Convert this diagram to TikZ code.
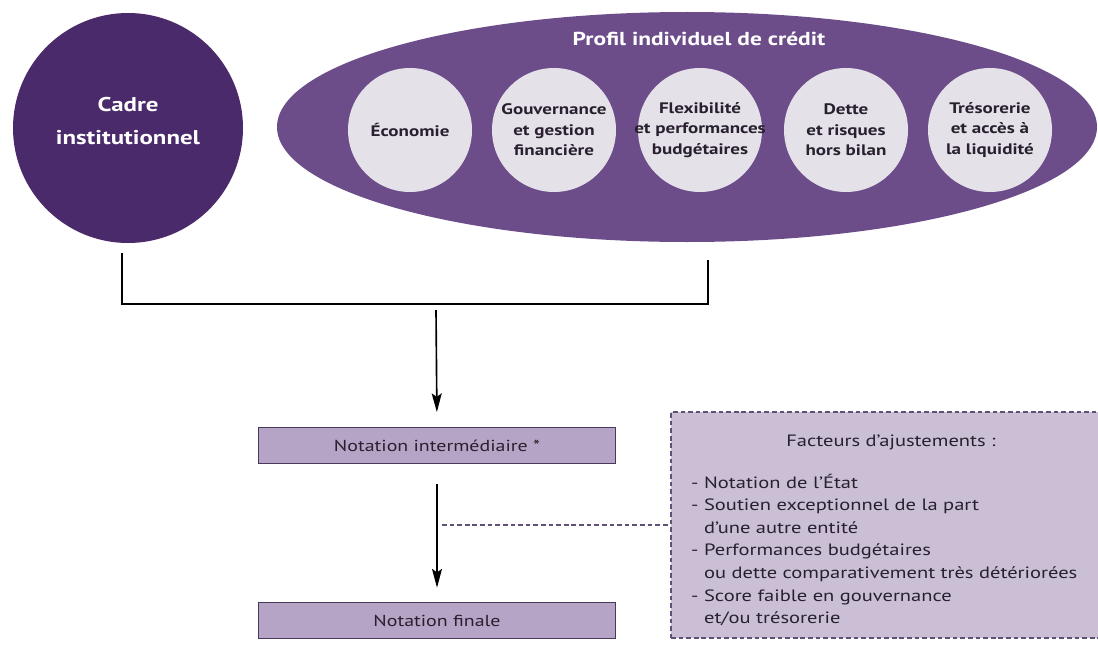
\documentclass[tikz,border=0pt]{standalone}
\usepackage{fontspec}
\setmainfont{PT Sans}[FakeStretch=1.25]
\usetikzlibrary{shapes.geometric,arrows.meta}

\definecolor{cadrepurple}{RGB}{74,42,106}
\definecolor{profilpurple}{RGB}{108,77,138}
\definecolor{critgrey}{RGB}{229,225,233}
\definecolor{notefill}{RGB}{182,164,198}
\definecolor{noteedge}{RGB}{72,56,90}
\definecolor{factfill}{RGB}{203,191,214}
\definecolor{factedge}{RGB}{96,80,118}
\definecolor{textgrey}{RGB}{40,32,46}

\newcommand{\pxunit}{0.03cm}
\tikzstyle{cadre}=[circle,fill=cadrepurple,inner sep=0pt,minimum size=230*\pxunit]
\tikzstyle{cadretexte}=[text=white,align=center,inner sep=0pt,font=\bfseries\fontsize{17}{27.5}\selectfont]
\tikzstyle{profil}=[ellipse,fill=profilpurple,inner sep=0pt,minimum width=820*\pxunit,minimum height=230*\pxunit]
\tikzstyle{critere}=[circle,fill=critgrey,inner sep=0pt,minimum size=124*\pxunit]
\tikzstyle{critexte}=[text=textgrey,align=center,inner sep=0pt,font=\bfseries\fontsize{13}{17.5}\selectfont]
\tikzstyle{notation}=[rectangle,draw=noteedge,line width=1.5pt,fill=notefill,text=textgrey,minimum width=357*\pxunit,minimum height=36*\pxunit,inner sep=0pt,font=\fontsize{13.6}{15}\selectfont]
\tikzstyle{facteurs}=[rectangle,draw=factedge,dash pattern=on 4pt off 2.5pt,line width=1.2pt,fill=factfill,minimum width=431*\pxunit,minimum height=226*\pxunit,inner sep=0pt]
\tikzstyle{facteur}=[text=textgrey,inner sep=0pt,font=\fontsize{14}{16}\selectfont]
\tikzstyle{link}=[draw,line width=1.4pt,-]
\tikzstyle{flow}=[draw,line width=1.4pt,-{Stealth[length=16pt,width=8.5pt,inset=3pt]}]
\tikzstyle{tiret}=[draw=factedge,line width=1.2pt,dash pattern=on 4pt off 2.5pt]

\begin{document}
\begin{tikzpicture}[x=\pxunit, y=-\pxunit]
    \useasboundingbox (0,0) rectangle (1098,647);
    % First we draw the two blocks of criteria
    \node[cadre, label={[cadretexte, yshift=7*\pxunit]center:Cadre\\institutionnel}] (cadre) at (128,128) {};
    \node[profil] (profil) at (687,127) {};
    \node[text=white, font=\bfseries\fontsize{16}{18}\selectfont] (titre) at (699,39) {Profil individuel de crédit};
    \foreach \pos/\name/\txt in {{(410,130)/eco/Économie}, {(554,130)/gouv/Gouvernance\\et gestion\\financière}, {(700,130)/flex/Flexibilité\\et performances\\budgétaires}, {(846,130)/dette/Dette\\et risques\\hors bilan}, {(990,130)/treso/Trésorerie\\et accès à\\la liquidité}}
        \node[critere, label={[critexte]center:\txt}] (\name) at \pos {};
    % Then the ratings and the adjustment factors
    \node[notation] (inter) at (437,445.5) {Notation intermédiaire *};
    \node[notation] (finale) at (437,620.5) {Notation finale};
    \node[facteurs] (facteurs) at (886.5,525) {};
    \node[facteur] (facttitre) at (891,442) {Facteurs d’ajustements :};
    \foreach \ligne [count=\i] in {- Notation de l’État, - Soutien exceptionnel de la part, \hphantom{- }d’une autre entité, - Performances budgétaires, \hphantom{- }ou dette comparativement très détériorées, - Score faible en gouvernance, \hphantom{- }et/ou trésorerie}
        \node[facteur, anchor=base west] (ligne\i) at (691,465.4+22.6*\i) {\ligne};
    % Connect the blocks with lines and arrows
    \coordinate (cadrepied) at (122,253);
    \coordinate (profilpied) at (708,260);
    \coordinate (jonction) at (436,304);
    \coordinate (depart) at (436,310);
    \coordinate (ajust) at (442,525);
    \path[link] (cadrepied) |- (jonction) -| (profilpied);
    \path[flow, shorten >=14.5*\pxunit] (depart) -- (inter.north);
    \path[flow, shorten <=20*\pxunit, shorten >=14*\pxunit] (inter.south) -- (finale.north);
    \path[tiret] (ajust) -- (ajust -| facteurs.west);
\end{tikzpicture}
\end{document}
